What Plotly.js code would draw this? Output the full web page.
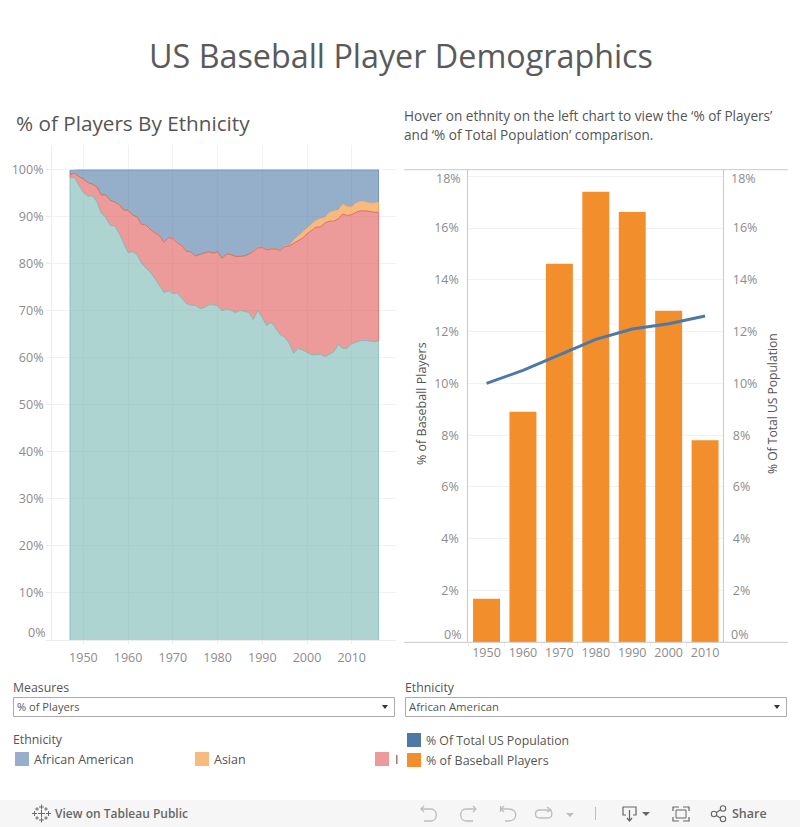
<!DOCTYPE html>
<html>
<head>
<meta charset="utf-8">
<script src="https://cdn.plot.ly/plotly-3.0.1.min.js"></script>
<style>html,body{margin:0;padding:0;background:#fff;overflow:hidden}#c{width:800px;height:827px}</style>
</head>
<body>
<div id="c"></div>
<script>
// ---- Data ----
const years = [1947,1948,1949,1950,1951,1952,1953,1954,1955,1956,1957,1958,1959,1960,1961,1962,1963,1964,1965,1966,1967,1968,1969,
  1970,1971,1972,1973,1974,1975,1976,1977,1978,1979,1980,1981,1982,1983,1984,1985,1986,1987,1988,1989,
  1990,1991,1992,1993,1994,1995,1996,1997,1998,1999,2000,2001,2002,2003,2004,2005,2006,2007,2008,2009,
  2010,2011,2012,2013,2014,2015,2016];
// Cumulative upper edge of each stacked band, in % of players
const whiteTop = [98.4,98.4,96.7,95.2,94.4,94.5,93.3,90.8,89.9,88.2,88.1,86.5,84.4,82.4,82.6,82.0,80.1,79.2,78.2,76.9,75.4,73.9,74.3,
  73.7,73.8,72.8,71.6,71.2,71.2,70.5,70.7,71.3,71.3,71.1,70.0,70.4,70.2,69.6,70.1,69.9,69.7,68.2,70.1,
  68.6,66.9,67.6,66.2,65.0,64.4,63.2,61.0,62.0,61.7,61.2,60.7,60.7,60.8,60.3,60.8,61.3,62.9,62.0,62.1,
  63.0,63.4,63.7,63.7,63.6,63.5,63.6];
const latinoTop = [99.0,99.3,98.6,98.1,97.3,97.0,96.4,94.7,94.7,93.5,93.2,92.6,91.5,91.4,90.4,90.0,88.4,88.3,87.3,86.6,86.1,84.6,85.6,
  85.4,84.5,83.9,82.7,82.6,81.7,82.0,82.2,82.6,82.3,82.6,81.2,82.1,82.0,81.6,81.6,81.7,82.1,82.6,83.4,
  83.5,83.0,83.2,83.2,82.9,83.7,83.8,84.4,84.9,85.5,86.4,87.1,87.8,87.9,88.7,89.1,89.1,89.6,90.6,90.3,
  90.5,91.0,91.3,91.3,91.1,91.0,91.0];
const asianTop = [99.0,99.3,98.6,98.1,97.3,97.0,96.4,94.7,94.7,93.5,93.2,92.6,91.5,91.4,90.4,90.0,88.5,88.4,87.4,86.7,86.2,84.7,85.7,
  85.5,84.6,84.0,82.8,82.6,81.7,82.0,82.2,82.6,82.3,82.6,81.2,82.1,82.0,81.6,81.6,81.7,82.1,82.7,83.5,
  83.6,83.1,83.3,83.3,83.0,83.9,84.0,85.1,86.0,86.9,87.8,88.5,89.3,89.7,89.9,91.0,91.3,91.5,92.8,92.2,
  92.2,93.0,93.4,93.3,93.0,93.0,93.2];
const blackTop = [99.9,100,100,100,100,100,100,100,100,100,100,100,100,100,100,100,100,100,99.9,100,99.9,100,100,
  100,100,99.9,100,100,100,100,100,100,100,100,99.9,100,99.9,100,99.9,100,100,100,100,
  100,100,100,100,100,99.9,99.9,99.9,100,100,100,100,100,100,99.9,100,100,99.9,99.9,99.9,
  99.9,100,99.9,100,99.9,100,100];
const bandNames = ['White','Latino','Asian','African American'];
const leftTicks = [0,10,20,30,40,50,60,70,80,90,100];
const leftTickText = ['','10%','20%','30%','40%','50%','60%','70%','80%','90%','100%'];
const yearTicks = [1950,1960,1970,1980,1990,2000,2010];

const decades = ['1950','1960','1970','1980','1990','2000','2010'];
const pctPlayers = [1.68,8.9,14.62,17.4,16.62,12.8,7.8];
const pctPopulation = [10.0,10.5,11.1,11.7,12.1,12.3,12.6];
const rightTicks = [0,2,4,6,8,10,12,14,16,18];
const rightTickText = ['','2%','4%','6%','8%','10%','12%','14%','16%',''];

// ---- Helpers ----
const W = 800, H = 827, FONT = '"Open Sans", Lato, sans-serif';
const px = x => x / W, py = y => 1 - y / H;
const note = (text, x, y, size, color, anchor, extra) => Object.assign({
  text, xref:'paper', yref:'paper', x:px(x), y:py(y), showarrow:false,
  xanchor:anchor || 'left', yanchor:'middle', align:anchor || 'left',
  font:{family:FONT, size, color}, borderpad:0, borderwidth:0
}, extra || {});
const rect = (x0,y0,x1,y1,fill,line) => ({type:'rect',xref:'paper',yref:'paper',x0:px(x0),x1:px(x1),y0:py(y0),y1:py(y1),
  fillcolor:fill||'rgba(0,0,0,0)',line:{color:line||'rgba(0,0,0,0)',width:line?1:0},layer:'above'});
const seg = (x0,y0,x1,y1,color,w) => ({type:'line',xref:'paper',yref:'paper',x0:px(x0),x1:px(x1),y0:py(y0),y1:py(y1),
  line:{color,width:w||1},layer:'above'});
const pathPx = (d,color,w,fill) => {
  let i = 0;
  const s = d.replace(/-?\d+(\.\d+)?/g, n => { const v = parseFloat(n); return ((i++ % 2 === 0) ? px(v) : py(v)).toFixed(5); });
  return {type:'path',xref:'paper',yref:'paper',path:s,line:{color:color,width:fill?0:(w||1)},fillcolor:fill?color:'rgba(0,0,0,0)',layer:'above'};
};

// ---- Traces ----
const band = (name,y,rgb,first,lineAlpha) => ({
  type:'scatter',mode:'lines',name,x:years,y,xaxis:'x',yaxis:'y',
  fill:first?'tozeroy':'tonexty',fillcolor:`rgba(${rgb},0.6)`,
  line:{color:`rgba(${rgb},${lineAlpha})`,width:1},hoverinfo:'x+y+name'
});
const BLUE='78,121,167',ORANGE='242,142,43',RED='225,87,89',TEAL='118,183,178';
const traces = [
  band(bandNames[0],whiteTop,TEAL,true,0.8),
  band(bandNames[1],latinoTop,RED,false,0.8),
  band(bandNames[2],asianTop,ORANGE,false,0.35),
  band(bandNames[3],blackTop,BLUE,false,0.6),
  {type:'bar',name:'% of Baseball Players',x:decades,y:pctPlayers,xaxis:'x2',yaxis:'y2',marker:{color:'#F28E2B'},width:0.74},
  {type:'scatter',mode:'lines',name:'% Of Total US Population',x:decades,y:pctPopulation,xaxis:'x2',yaxis:'y3',line:{color:'#4E79A7',width:3}}
];

// ---- Shapes ----
const TICK='#ececec', GRID='#f2f2f2', AXIS='#c9c9c9', LIGHT='#bdbdbd', DARK='#666666';
const bandEdges = [[0,whiteTop,TEAL],[whiteTop,latinoTop,RED],[latinoTop,asianTop,ORANGE],[asianTop,blackTop,BLUE]];
const shapes = [];
[0,years.length-1].forEach(i => bandEdges.forEach(([lo,hi,rgb]) => shapes.push({
  type:'line',xref:'x',yref:'y',x0:years[i],x1:years[i],y0:lo===0?0:lo[i],y1:hi[i],line:{color:`rgba(${rgb},0.7)`,width:1},layer:'above'})));
// right chart frame
shapes.push(seg(404,169.7,788,169.7,AXIS), seg(404,642.3,788,642.3,AXIS));
// dropdowns
shapes.push(rect(13.5,697.5,394.5,716.5,'#fff','#ababab'), rect(405.5,697.5,786.5,716.5,'#fff','#ababab'));
shapes.push(pathPx('M 382 705 L 388 705 L 385 709 Z','#333333',0,true), pathPx('M 774 705 L 780 705 L 777 709 Z','#333333',0,true));
// legend swatches
shapes.push(rect(15,752,29,766,'#97AFCA'), rect(195,752,209,766,'#F7BB80'), rect(375,752,389,766,'#ED9A9B'));
shapes.push(rect(407,733,421,747,'#4E79A7'), rect(407,753,421,767,'#F28E2B'));
// toolbar
shapes.push(Object.assign(rect(0,800,800,827,'#F6F6F6'),{layer:'below'}));
// tableau logo
[[41.5,807,5],[41.5,820,5],[34.5,813.5,5],[48.5,813.5,5],[41.5,813.5,7],[37,809,3.5],[46,809,3.5],[37,818,3.5],[46,818,3.5]].forEach(([x,y,s]) => {
  shapes.push(seg(x-s/2,y,x+s/2,y,'#6a6a6a',1), seg(x,y-s/2,x,y+s/2,'#6a6a6a',1));
});
// undo, redo, revert, refresh
shapes.push(pathPx('M 421 809 L 431 809 C 438 809 438 821 431 821 L 424 821',LIGHT,1.3), pathPx('M 424 806 L 421 809 L 424 812',LIGHT,1.3));
shapes.push(pathPx('M 476 809 L 466 809 C 459 809 459 821 466 821 L 473 821',LIGHT,1.3), pathPx('M 473 806 L 476 809 L 473 812',LIGHT,1.3));
shapes.push(pathPx('M 501 809 L 509 809 C 518 809 518 821 509 821 L 505 821',LIGHT,1.3), pathPx('M 504 806 L 501 809 L 504 812',LIGHT,1.3), seg(500.5,806,500.5,812,LIGHT,1.3));
shapes.push(pathPx('M 549 810 L 540 810 C 534 810 534 818 540 818 L 548 818 C 553 818 553 810 549 810',LIGHT,1.3), pathPx('M 547 807 L 551 810 L 547 812',LIGHT,1.3));
shapes.push(pathPx('M 566 813 L 574 813 L 570 817 Z',LIGHT,0,true));
shapes.push(seg(595.5,807,595.5,820,LIGHT,1));
// download
shapes.push(pathPx('M 626 815 L 623 815 L 623 807 L 636 807 L 636 815 L 633 815',DARK,1.2), seg(629.5,810,629.5,821,DARK,1.2), pathPx('M 627 818 L 629.5 821 L 632 818',DARK,1.2));
shapes.push(pathPx('M 642 812 L 650 812 L 646 816 Z',DARK,0,true));
// fullscreen
shapes.push(rect(676,810,686,818,'rgba(0,0,0,0)',DARK));
shapes.push(pathPx('M 673 811 L 673 807 L 679 807',DARK,1.2), pathPx('M 683 807 L 689 807 L 689 811',DARK,1.2), pathPx('M 673 817 L 673 821 L 679 821',DARK,1.2), pathPx('M 683 821 L 689 821 L 689 817',DARK,1.2));
// share
shapes.push(pathPx('M 714 814 L 722 809 M 714 814 L 722 819',DARK,1.1));
[[714,814],[723,808.5],[723,819]].forEach(([x,y]) => shapes.push({type:'circle',xref:'paper',yref:'paper',x0:px(x-2.7),x1:px(x+2.7),y0:py(y-2.7),y1:py(y+2.7),fillcolor:'#F6F6F6',line:{color:DARK,width:1.1},layer:'above'}));

// ---- Text ----
const TXT='#555555', LBL='#8c8c8c';
const annotations = [
  note('US Baseball Player Demographics',400.5,55,32.3,'#5a5a5a','center',{font:{family:FONT,size:32.3,color:'#5a5a5a',weight:500}}),
  note('% of Players By Ethnicity',16,123,20.7,'#555555'),
  note('Hover on ethnity on the left chart to view the ‘% of Players’',404,115,13.6,TXT),
  note('and ‘% of Total Population’ comparison.',404,134,13.6,TXT),
  note('0%',45,632,12.5,LBL,'right'),
  note('0%',461,634,12.5,LBL,'right'),
  note('0%',731,634,12.5,LBL,'left'),
  note('18%',461,178,12.5,LBL,'right'),
  note('18%',731,178,12.5,LBL,'left'),
  note('% of Baseball Players',421,404,12.5,TXT,'center',{textangle:-90}),
  note('% Of Total US Population',772,404,12.1,TXT,'center',{textangle:-90}),
  note('Measures',12.5,687.5,12.3,TXT),
  note('% of Players',17,706.5,11.1,TXT),
  note('Ethnicity',12.5,739.5,12.3,TXT),
  note('African American',34,759.5,12.5,TXT),
  note('Asian',214,759.5,12.5,TXT),
  note('I',394.5,759.5,12.5,TXT),
  note('Ethnicity',404.5,687.5,12.3,TXT),
  note('African American',409,706.5,11.3,TXT),
  note('% Of Total US Population',426,740.5,12.3,TXT),
  note('% of Baseball Players',426,760.5,12.5,TXT),
  note('View on Tableau Public',55,813.5,12,'#666666','left',{font:{family:FONT,size:12,color:'#666666',weight:600}}),
  note('Share',732,813.5,12.5,'#666666','left',{font:{family:FONT,size:12.5,color:'#666666',weight:600}})
];

// ---- Layout ----
const tickFont = {family:FONT,size:12.5,color:LBL};
const layout = {
  width:W,height:H,margin:{l:0,r:0,t:0,b:0},paper_bgcolor:'#fff',plot_bgcolor:'#fff',showlegend:false,bargap:0.26,
  font:{family:FONT},
  xaxis:{domain:[px(52),px(396)],range:[1942.98,2019.9],anchor:'y',tickvals:yearTicks,ticktext:yearTicks.map(String),tickangle:0,
    showgrid:true,gridcolor:GRID,zeroline:false,ticks:'outside',ticklen:3,tickcolor:TICK,tickfont:tickFont,ticklabelstandoff:3,showline:true,linecolor:TICK},
  yaxis:{domain:[py(640),py(145)],range:[0,105.3],anchor:'x',tickvals:leftTicks,ticktext:leftTickText,
    showgrid:true,gridcolor:GRID,zeroline:false,ticks:'outside',ticklen:5,tickcolor:TICK,tickfont:tickFont,showline:true,linecolor:TICK},
  xaxis2:{domain:[px(468.3),px(723.3)],type:'category',categoryorder:'array',categoryarray:decades,range:[-0.5,6.5],anchor:'y2',tickangle:0,
    showgrid:false,tickson:'boundaries',ticks:'outside',ticklen:4,tickcolor:TICK,tickfont:tickFont,ticklabelstandoff:1,showline:false},
  yaxis2:{domain:[py(642.3),py(170)],range:[0,18.24],anchor:'x2',tickvals:rightTicks,ticktext:rightTickText,
    showgrid:true,gridcolor:GRID,zeroline:false,ticks:'',tickfont:tickFont,ticklabelstandoff:6,showline:true,linecolor:AXIS},
  yaxis3:{domain:[py(642.3),py(170)],range:[0,18.24],anchor:'x2',overlaying:'y2',side:'right',tickvals:rightTicks,ticktext:rightTickText,
    showgrid:false,zeroline:false,ticks:'',tickfont:tickFont,ticklabelstandoff:6,showline:true,linecolor:AXIS},
  shapes,annotations
};
Plotly.newPlot('c',traces,layout,{displayModeBar:false,responsive:false});
</script>
</body>
</html>
